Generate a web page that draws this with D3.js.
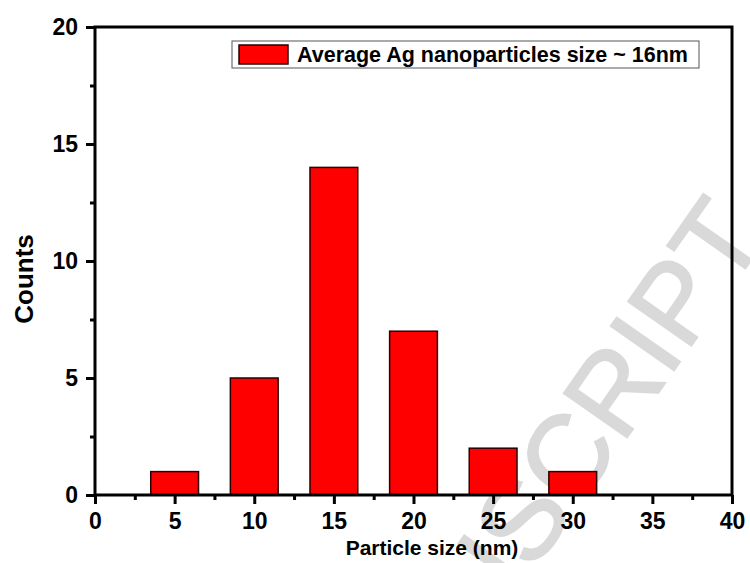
<!DOCTYPE html>
<html>
<head>
<meta charset="utf-8">
<script src="https://cdn.jsdelivr.net/npm/d3@7"></script>
<style>
  body { margin: 0; background: #fff; }
  text { font-family: "Liberation Sans", Arial, sans-serif; }
</style>
</head>
<body>
<div id="chart"></div>
<script>
// histogram data
const sizes = [5, 10, 15, 20, 25, 30];
const counts = [1, 5, 14, 7, 2, 1];
const xTicks = [0, 5, 10, 15, 20, 25, 30, 35, 40];
const xMinor = [2.5, 7.5, 12.5, 17.5, 22.5, 27.5, 32.5, 37.5];
const yTicks = [0, 5, 10, 15, 20];
const yMinor = [2.5, 7.5, 12.5, 17.5];
const binWidth = 3;
const legendLabel = "Average Ag nanoparticles size ~ 16nm";

const width = 750, height = 563;
const svg = d3.select("#chart").append("svg")
    .attr("width", width)
    .attr("height", height);

const x = d3.scaleLinear().domain([0, 40]).range([95, 732]);
const y = d3.scaleLinear().domain([0, 20]).range([495, 27]);

// watermark behind everything
svg.append("text")
    .attr("transform", "translate(768,236) rotate(-55)")
    .attr("text-anchor", "end")
    .attr("fill", "#d9d9d9")
    .attr("stroke", "#d9d9d9")
    .attr("stroke-width", 2)
    .style("font-size", "112px")
    .text("ACCEPTED MANUSCRIPT");

// bars
svg.append("g")
    .selectAll("rect")
    .data(sizes.map((s, i) => ({ size: s, count: counts[i] })))
    .enter().append("rect")
    .attr("x", d => x(d.size - binWidth / 2))
    .attr("y", d => y(d.count))
    .attr("width", d => x(d.size + binWidth / 2) - x(d.size - binWidth / 2))
    .attr("height", d => y(0) - y(d.count))
    .attr("fill", "#ff0000")
    .attr("stroke", "#2a0000")
    .attr("stroke-width", 1.5);

// minor ticks
svg.append("g")
    .attr("transform", "translate(0," + y(0) + ")")
    .call(d3.axisBottom(x).tickValues(xMinor).tickSize(5).tickFormat(""))
    .call(g => g.select(".domain").remove())
    .selectAll("line").attr("stroke-width", 3);

svg.append("g")
    .attr("transform", "translate(" + x(0) + ",0)")
    .call(d3.axisLeft(y).tickValues(yMinor).tickSize(5).tickFormat(""))
    .call(g => g.select(".domain").remove())
    .selectAll("line").attr("stroke-width", 3);

// major axes
const xAxis = svg.append("g")
    .attr("transform", "translate(0," + y(0) + ")")
    .call(d3.axisBottom(x).tickValues(xTicks).tickSize(9).tickPadding(9))
    .call(g => g.select(".domain").remove());
xAxis.selectAll("line").attr("stroke-width", 3);
xAxis.selectAll("text")
    .style("font-size", "23px")
    .style("font-weight", "bold")
    .attr("fill", "#000");

const yAxis = svg.append("g")
    .attr("transform", "translate(" + x(0) + ",0)")
    .call(d3.axisLeft(y).tickValues(yTicks).tickSize(9).tickPadding(8))
    .call(g => g.select(".domain").remove());
yAxis.selectAll("line").attr("stroke-width", 3);
yAxis.selectAll("text")
    .style("font-size", "23px")
    .style("font-weight", "bold")
    .attr("fill", "#000");

// frame
svg.append("rect")
    .attr("x", x(0))
    .attr("y", y(20))
    .attr("width", x(40) - x(0))
    .attr("height", y(0) - y(20))
    .attr("fill", "none")
    .attr("stroke", "#000")
    .attr("stroke-width", 3);

// axis titles
svg.append("text")
    .attr("x", 432)
    .attr("y", 555)
    .attr("text-anchor", "middle")
    .style("font-size", "21px")
    .style("font-weight", "bold")
    .text("Particle size (nm)");

svg.append("text")
    .attr("transform", "translate(33,279) rotate(-90)")
    .attr("text-anchor", "middle")
    .style("font-size", "26px")
    .style("font-weight", "bold")
    .text("Counts");

// legend
const legend = svg.append("g");
legend.append("rect")
    .attr("x", 232).attr("y", 41)
    .attr("width", 467).attr("height", 27)
    .attr("fill", "#fff")
    .attr("stroke", "#555")
    .attr("stroke-width", 1);
legend.append("rect")
    .attr("x", 239).attr("y", 45)
    .attr("width", 49).attr("height", 19)
    .attr("fill", "#ff0000")
    .attr("stroke", "#2a0000")
    .attr("stroke-width", 1.5);
legend.append("text")
    .attr("x", 297).attr("y", 62)
    .style("font-size", "21.5px")
    .style("font-weight", "bold")
    .text(legendLabel);
</script>
</body>
</html>
